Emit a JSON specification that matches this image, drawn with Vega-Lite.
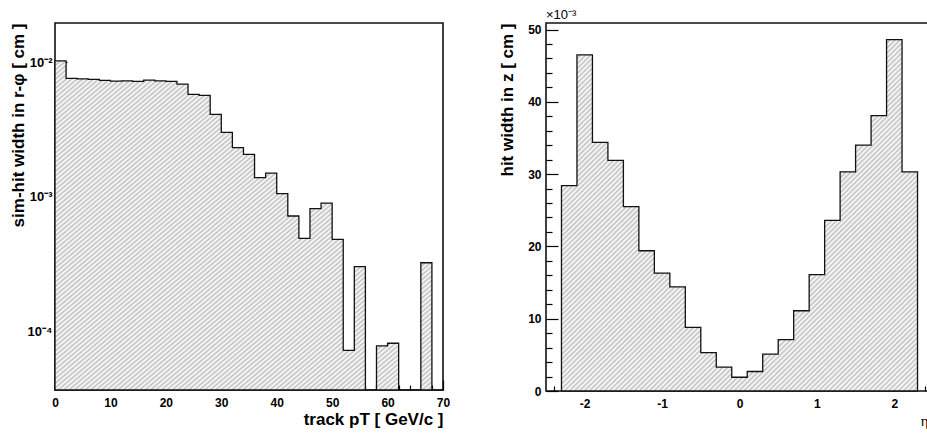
{
  "$schema": "https://vega.github.io/schema/vega-lite/v6.json",
  "background": "white",
  "padding": {"left": 8, "top": 8, "right": 0, "bottom": 0},
  "spacing": 103,
  "bounds": "flush",
  "datasets": {
    "rphi": [
      {"pt_lo": 0, "pt_hi": 2, "width": 0.0102},
      {"pt_lo": 2, "pt_hi": 4, "width": 0.00757},
      {"pt_lo": 4, "pt_hi": 6, "width": 0.00752},
      {"pt_lo": 6, "pt_hi": 8, "width": 0.00744},
      {"pt_lo": 8, "pt_hi": 10, "width": 0.00731},
      {"pt_lo": 10, "pt_hi": 12, "width": 0.00723},
      {"pt_lo": 12, "pt_hi": 14, "width": 0.00727},
      {"pt_lo": 14, "pt_hi": 16, "width": 0.00719},
      {"pt_lo": 16, "pt_hi": 18, "width": 0.00735},
      {"pt_lo": 18, "pt_hi": 20, "width": 0.00727},
      {"pt_lo": 20, "pt_hi": 22, "width": 0.00719},
      {"pt_lo": 22, "pt_hi": 24, "width": 0.00687},
      {"pt_lo": 24, "pt_hi": 26, "width": 0.00576},
      {"pt_lo": 26, "pt_hi": 28, "width": 0.00566},
      {"pt_lo": 28, "pt_hi": 30, "width": 0.00409},
      {"pt_lo": 30, "pt_hi": 32, "width": 0.00301},
      {"pt_lo": 32, "pt_hi": 34, "width": 0.00232},
      {"pt_lo": 34, "pt_hi": 36, "width": 0.00207},
      {"pt_lo": 36, "pt_hi": 38, "width": 0.00139},
      {"pt_lo": 38, "pt_hi": 40, "width": 0.0015},
      {"pt_lo": 40, "pt_hi": 42, "width": 0.00106},
      {"pt_lo": 42, "pt_hi": 44, "width": 0.000722},
      {"pt_lo": 44, "pt_hi": 46, "width": 0.000493},
      {"pt_lo": 46, "pt_hi": 48, "width": 0.000818},
      {"pt_lo": 48, "pt_hi": 50, "width": 0.000901},
      {"pt_lo": 50, "pt_hi": 52, "width": 0.000485},
      {"pt_lo": 52, "pt_hi": 54, "width": 0.0000729},
      {"pt_lo": 54, "pt_hi": 56, "width": 0.000304},
      {"pt_lo": 56, "pt_hi": 58, "width": 0},
      {"pt_lo": 58, "pt_hi": 60, "width": 0.0000785},
      {"pt_lo": 60, "pt_hi": 62, "width": 0.0000822},
      {"pt_lo": 62, "pt_hi": 64, "width": 0},
      {"pt_lo": 64, "pt_hi": 66, "width": 0},
      {"pt_lo": 66, "pt_hi": 68, "width": 0.000325},
      {"pt_lo": 68, "pt_hi": 70, "width": 0}
    ],
    "zw": [
      {"eta_lo": -2.3, "eta_hi": -2.1, "width": 0.0284},
      {"eta_lo": -2.1, "eta_hi": -1.9, "width": 0.0465},
      {"eta_lo": -1.9, "eta_hi": -1.7, "width": 0.0344},
      {"eta_lo": -1.7, "eta_hi": -1.5, "width": 0.0319},
      {"eta_lo": -1.5, "eta_hi": -1.3, "width": 0.0255},
      {"eta_lo": -1.3, "eta_hi": -1.1, "width": 0.0194},
      {"eta_lo": -1.1, "eta_hi": -0.9, "width": 0.0163},
      {"eta_lo": -0.9, "eta_hi": -0.7, "width": 0.0144},
      {"eta_lo": -0.7, "eta_hi": -0.5, "width": 0.0088},
      {"eta_lo": -0.5, "eta_hi": -0.3, "width": 0.0053},
      {"eta_lo": -0.3, "eta_hi": -0.1, "width": 0.0033},
      {"eta_lo": -0.1, "eta_hi": 0.1, "width": 0.0019},
      {"eta_lo": 0.1, "eta_hi": 0.3, "width": 0.0027},
      {"eta_lo": 0.3, "eta_hi": 0.5, "width": 0.0051},
      {"eta_lo": 0.5, "eta_hi": 0.7, "width": 0.0071},
      {"eta_lo": 0.7, "eta_hi": 0.9, "width": 0.0111},
      {"eta_lo": 0.9, "eta_hi": 1.1, "width": 0.0161},
      {"eta_lo": 1.1, "eta_hi": 1.3, "width": 0.0236},
      {"eta_lo": 1.3, "eta_hi": 1.5, "width": 0.0303},
      {"eta_lo": 1.5, "eta_hi": 1.7, "width": 0.034},
      {"eta_lo": 1.7, "eta_hi": 1.9, "width": 0.0381},
      {"eta_lo": 1.9, "eta_hi": 2.1, "width": 0.0486},
      {"eta_lo": 2.1, "eta_hi": 2.3, "width": 0.0303}
    ]
  },
  "hconcat": [
    {
      "width": 388,
      "height": 367,
      "data": {"name": "rphi"},
      "transform": [{"fold": ["pt_lo", "pt_hi"], "as": ["edge", "pt"]}],
      "resolve": {"axis": {"x": "independent", "y": "independent"}},
      "layer": [
        {
          "mark": {"type": "area"},
          "encoding": {
            "x": {
              "field": "pt", "type": "quantitative",
              "scale": {"domain": [0, 70], "nice": false, "zero": false},
              "axis": {
                "orient": "bottom", "offset": -10, "tickSize": 10, "labelPadding": 7,
                "values": [0,10,20,30,40,50,60,70],
                "title": "track pT [ GeV/c ]",
                "titleAnchor": "end", "titleAlign": "right", "titleBaseline": "alphabetic",
                "titleX": 388, "titleY": 44
              }
            },
            "y": {
              "field": "width", "type": "quantitative", "stack": null,
              "scale": {"type": "log", "domain": [0.000037, 0.0195], "nice": false, "clamp": true},
              "axis": {
                "orient": "left", "offset": -12, "tickSize": 12, "labelPadding": 3,
                "values": [0.0001, 0.001, 0.01],
                "labelFontSize": 13,
                "labelExpr": "datum.value == 0.01 ? '10⁻²' : (datum.value == 0.001 ? '10⁻³' : '10⁻⁴')",
                "title": "sim-hit width in r-φ [ cm ]",
                "titleAngle": 270, "titleAlign": "right", "titleBaseline": "middle",
                "titleX": -48.5, "titleY": 0
              }
            }
          }
        },
        {
          "mark": {"type": "area", "fillOpacity": 0, "stroke": "#111", "strokeWidth": 1.3, "strokeJoin": "miter"},
          "encoding": {
            "x": {
              "field": "pt", "type": "quantitative",
              "scale": {"domain": [0, 70], "nice": false, "zero": false},
              "axis": {
                "orient": "bottom", "offset": -5, "tickSize": 5, "labels": false, "title": null,
                "values": [2,4,6,8,12,14,16,18,22,24,26,28,32,34,36,38,42,44,46,48,52,54,56,58,62,64,66,68]
              }
            },
            "y": {
              "field": "width", "type": "quantitative", "stack": null,
              "scale": {"type": "log", "domain": [0.000037, 0.0195], "nice": false, "clamp": true},
              "axis": {
                "orient": "left", "offset": -6, "tickSize": 6, "labels": false, "title": null,
                "values": [0.00004,0.00005,0.00006,0.00007,0.00008,0.00009,0.0002,0.0003,0.0004,0.0005,0.0006,0.0007,0.0008,0.0009,0.002,0.003,0.004,0.005,0.006,0.007,0.008,0.009]
              }
            }
          }
        }
      ]
    },
    {
      "width": 387,
      "height": 368,
      "title": {"text": "×10⁻³", "anchor": "start", "frame": "group", "fontSize": 13, "fontWeight": "normal", "font": "Liberation Sans", "color": "#000", "offset": 1},
      "data": {"name": "zw"},
      "transform": [{"fold": ["eta_lo", "eta_hi"], "as": ["edge", "eta"]}],
      "resolve": {"axis": {"x": "independent", "y": "independent"}},
      "layer": [
        {
          "mark": {"type": "area"},
          "encoding": {
            "x": {
              "field": "eta", "type": "quantitative",
              "scale": {"domain": [-2.5, 2.5], "nice": false, "zero": false},
              "axis": {
                "orient": "bottom", "offset": -10, "tickSize": 10, "labelPadding": 7,
                "values": [-2, -1, 0, 1, 2],
                "labelExpr": "datum.value < 0 ? '-' + abs(datum.value) : '' + datum.value",
                "title": "η",
                "titleFont": "Liberation Serif", "titleFontWeight": "normal", "titleFontSize": 15,
                "titleAnchor": "end", "titleAlign": "right", "titleBaseline": "alphabetic",
                "titleX": 382, "titleY": 44
              }
            },
            "y": {
              "field": "width", "type": "quantitative", "stack": null,
              "scale": {"domain": [0, 0.0509], "nice": false},
              "axis": {
                "orient": "left", "offset": -12, "tickSize": 12, "labelPadding": 5,
                "values": [0, 0.01, 0.02, 0.03, 0.04, 0.05],
                "labelExpr": "'' + round(datum.value * 1000)",
                "title": "hit width in z [ cm ]",
                "titleAngle": 270, "titleAlign": "right", "titleBaseline": "middle",
                "titleX": -51, "titleY": 0
              }
            }
          }
        },
        {
          "mark": {"type": "area", "fillOpacity": 0, "stroke": "#111", "strokeWidth": 1.3, "strokeJoin": "miter"},
          "encoding": {
            "x": {
              "field": "eta", "type": "quantitative",
              "scale": {"domain": [-2.5, 2.5], "nice": false, "zero": false},
              "axis": {
                "orient": "bottom", "offset": -5, "tickSize": 5, "labels": false, "title": null,
                "values": [-2.4,-2.2,-1.8,-1.6,-1.4,-1.2,-0.8,-0.6,-0.4,-0.2,0.2,0.4,0.6,0.8,1.2,1.4,1.6,1.8,2.2,2.4]
              }
            },
            "y": {
              "field": "width", "type": "quantitative", "stack": null,
              "scale": {"domain": [0, 0.0509], "nice": false},
              "axis": {
                "orient": "left", "offset": -6, "tickSize": 6, "labels": false, "title": null,
                "values": [0.002,0.004,0.006,0.008,0.012,0.014,0.016,0.018,0.022,0.024,0.026,0.028,0.032,0.034,0.036,0.038,0.042,0.044,0.046,0.048]
              }
            }
          }
        }
      ]
    }
  ],
  "config": {
    "view": {"stroke": "#111", "strokeWidth": 1.6},
    "axis": {
      "zindex": 1,
      "grid": false,
      "domain": false,
      "tickColor": "#000", "tickWidth": 1.2,
      "labelFont": "Liberation Sans", "labelFontWeight": "bold", "labelFontSize": 12, "labelColor": "#000",
      "labelOverlap": false, "labelFlush": false, "labelBound": false,
      "titleFont": "Liberation Sans", "titleFontWeight": "bold", "titleFontSize": 17, "titleColor": "#000"
    },
    "area": {
      "fill": {
        "gradient": "linear", "x1": 0, "y1": 0, "x2": 1, "y2": 1,
        "stops": [
          {"offset":0,"color":"#c0c0c0"},{"offset":0.0035,"color":"#fff"},{"offset":0.007,"color":"#c0c0c0"},{"offset":0.0105,"color":"#fff"},{"offset":0.014,"color":"#c0c0c0"},{"offset":0.0175,"color":"#fff"},{"offset":0.021,"color":"#c0c0c0"},{"offset":0.0245,"color":"#fff"},{"offset":0.028,"color":"#c0c0c0"},{"offset":0.0315,"color":"#fff"},{"offset":0.035,"color":"#c0c0c0"},{"offset":0.0385,"color":"#fff"},{"offset":0.042,"color":"#c0c0c0"},{"offset":0.0455,"color":"#fff"},{"offset":0.049,"color":"#c0c0c0"},{"offset":0.0525,"color":"#fff"},{"offset":0.056,"color":"#c0c0c0"},{"offset":0.0595,"color":"#fff"},{"offset":0.063,"color":"#c0c0c0"},{"offset":0.0665,"color":"#fff"},
          {"offset":0.07,"color":"#c0c0c0"},{"offset":0.0735,"color":"#fff"},{"offset":0.077,"color":"#c0c0c0"},{"offset":0.0805,"color":"#fff"},{"offset":0.084,"color":"#c0c0c0"},{"offset":0.0875,"color":"#fff"},{"offset":0.091,"color":"#c0c0c0"},{"offset":0.0945,"color":"#fff"},{"offset":0.098,"color":"#c0c0c0"},{"offset":0.1015,"color":"#fff"},{"offset":0.105,"color":"#c0c0c0"},{"offset":0.1085,"color":"#fff"},{"offset":0.112,"color":"#c0c0c0"},{"offset":0.1155,"color":"#fff"},{"offset":0.119,"color":"#c0c0c0"},{"offset":0.1225,"color":"#fff"},{"offset":0.126,"color":"#c0c0c0"},{"offset":0.1295,"color":"#fff"},{"offset":0.133,"color":"#c0c0c0"},{"offset":0.1365,"color":"#fff"},
          {"offset":0.14,"color":"#c0c0c0"},{"offset":0.1435,"color":"#fff"},{"offset":0.147,"color":"#c0c0c0"},{"offset":0.1505,"color":"#fff"},{"offset":0.154,"color":"#c0c0c0"},{"offset":0.1575,"color":"#fff"},{"offset":0.161,"color":"#c0c0c0"},{"offset":0.1645,"color":"#fff"},{"offset":0.168,"color":"#c0c0c0"},{"offset":0.1715,"color":"#fff"},{"offset":0.175,"color":"#c0c0c0"},{"offset":0.1785,"color":"#fff"},{"offset":0.182,"color":"#c0c0c0"},{"offset":0.1855,"color":"#fff"},{"offset":0.189,"color":"#c0c0c0"},{"offset":0.1925,"color":"#fff"},{"offset":0.196,"color":"#c0c0c0"},{"offset":0.1995,"color":"#fff"},{"offset":0.203,"color":"#c0c0c0"},{"offset":0.2065,"color":"#fff"},
          {"offset":0.21,"color":"#c0c0c0"},{"offset":0.2135,"color":"#fff"},{"offset":0.217,"color":"#c0c0c0"},{"offset":0.2205,"color":"#fff"},{"offset":0.224,"color":"#c0c0c0"},{"offset":0.2275,"color":"#fff"},{"offset":0.231,"color":"#c0c0c0"},{"offset":0.2345,"color":"#fff"},{"offset":0.238,"color":"#c0c0c0"},{"offset":0.2415,"color":"#fff"},{"offset":0.245,"color":"#c0c0c0"},{"offset":0.2485,"color":"#fff"},{"offset":0.252,"color":"#c0c0c0"},{"offset":0.2555,"color":"#fff"},{"offset":0.259,"color":"#c0c0c0"},{"offset":0.2625,"color":"#fff"},{"offset":0.266,"color":"#c0c0c0"},{"offset":0.2695,"color":"#fff"},{"offset":0.273,"color":"#c0c0c0"},{"offset":0.2765,"color":"#fff"},
          {"offset":0.28,"color":"#c0c0c0"},{"offset":0.2835,"color":"#fff"},{"offset":0.287,"color":"#c0c0c0"},{"offset":0.2905,"color":"#fff"},{"offset":0.294,"color":"#c0c0c0"},{"offset":0.2975,"color":"#fff"},{"offset":0.301,"color":"#c0c0c0"},{"offset":0.3045,"color":"#fff"},{"offset":0.308,"color":"#c0c0c0"},{"offset":0.3115,"color":"#fff"},{"offset":0.315,"color":"#c0c0c0"},{"offset":0.3185,"color":"#fff"},{"offset":0.322,"color":"#c0c0c0"},{"offset":0.3255,"color":"#fff"},{"offset":0.329,"color":"#c0c0c0"},{"offset":0.3325,"color":"#fff"},{"offset":0.336,"color":"#c0c0c0"},{"offset":0.3395,"color":"#fff"},{"offset":0.343,"color":"#c0c0c0"},{"offset":0.3465,"color":"#fff"},
          {"offset":0.35,"color":"#c0c0c0"},{"offset":0.3535,"color":"#fff"},{"offset":0.357,"color":"#c0c0c0"},{"offset":0.3605,"color":"#fff"},{"offset":0.364,"color":"#c0c0c0"},{"offset":0.3675,"color":"#fff"},{"offset":0.371,"color":"#c0c0c0"},{"offset":0.3745,"color":"#fff"},{"offset":0.378,"color":"#c0c0c0"},{"offset":0.3815,"color":"#fff"},{"offset":0.385,"color":"#c0c0c0"},{"offset":0.3885,"color":"#fff"},{"offset":0.392,"color":"#c0c0c0"},{"offset":0.3955,"color":"#fff"},{"offset":0.399,"color":"#c0c0c0"},{"offset":0.4025,"color":"#fff"},{"offset":0.406,"color":"#c0c0c0"},{"offset":0.4095,"color":"#fff"},{"offset":0.413,"color":"#c0c0c0"},{"offset":0.4165,"color":"#fff"},
          {"offset":0.42,"color":"#c0c0c0"},{"offset":0.4235,"color":"#fff"},{"offset":0.427,"color":"#c0c0c0"},{"offset":0.4305,"color":"#fff"},{"offset":0.434,"color":"#c0c0c0"},{"offset":0.4375,"color":"#fff"},{"offset":0.441,"color":"#c0c0c0"},{"offset":0.4445,"color":"#fff"},{"offset":0.448,"color":"#c0c0c0"},{"offset":0.4515,"color":"#fff"},{"offset":0.455,"color":"#c0c0c0"},{"offset":0.4585,"color":"#fff"},{"offset":0.462,"color":"#c0c0c0"},{"offset":0.4655,"color":"#fff"},{"offset":0.469,"color":"#c0c0c0"},{"offset":0.4725,"color":"#fff"},{"offset":0.476,"color":"#c0c0c0"},{"offset":0.4795,"color":"#fff"},{"offset":0.483,"color":"#c0c0c0"},{"offset":0.4865,"color":"#fff"},
          {"offset":0.49,"color":"#c0c0c0"},{"offset":0.4935,"color":"#fff"},{"offset":0.497,"color":"#c0c0c0"},{"offset":0.5005,"color":"#fff"},{"offset":0.504,"color":"#c0c0c0"},{"offset":0.5075,"color":"#fff"},{"offset":0.511,"color":"#c0c0c0"},{"offset":0.5145,"color":"#fff"},{"offset":0.518,"color":"#c0c0c0"},{"offset":0.5215,"color":"#fff"},{"offset":0.525,"color":"#c0c0c0"},{"offset":0.5285,"color":"#fff"},{"offset":0.532,"color":"#c0c0c0"},{"offset":0.5355,"color":"#fff"},{"offset":0.539,"color":"#c0c0c0"},{"offset":0.5425,"color":"#fff"},{"offset":0.546,"color":"#c0c0c0"},{"offset":0.5495,"color":"#fff"},{"offset":0.553,"color":"#c0c0c0"},{"offset":0.5565,"color":"#fff"},
          {"offset":0.56,"color":"#c0c0c0"},{"offset":0.5635,"color":"#fff"},{"offset":0.567,"color":"#c0c0c0"},{"offset":0.5705,"color":"#fff"},{"offset":0.574,"color":"#c0c0c0"},{"offset":0.5775,"color":"#fff"},{"offset":0.581,"color":"#c0c0c0"},{"offset":0.5845,"color":"#fff"},{"offset":0.588,"color":"#c0c0c0"},{"offset":0.5915,"color":"#fff"},{"offset":0.595,"color":"#c0c0c0"},{"offset":0.5985,"color":"#fff"},{"offset":0.602,"color":"#c0c0c0"},{"offset":0.6055,"color":"#fff"},{"offset":0.609,"color":"#c0c0c0"},{"offset":0.6125,"color":"#fff"},{"offset":0.616,"color":"#c0c0c0"},{"offset":0.6195,"color":"#fff"},{"offset":0.623,"color":"#c0c0c0"},{"offset":0.6265,"color":"#fff"},
          {"offset":0.63,"color":"#c0c0c0"},{"offset":0.6335,"color":"#fff"},{"offset":0.637,"color":"#c0c0c0"},{"offset":0.6405,"color":"#fff"},{"offset":0.644,"color":"#c0c0c0"},{"offset":0.6475,"color":"#fff"},{"offset":0.651,"color":"#c0c0c0"},{"offset":0.6545,"color":"#fff"},{"offset":0.658,"color":"#c0c0c0"},{"offset":0.6615,"color":"#fff"},{"offset":0.665,"color":"#c0c0c0"},{"offset":0.6685,"color":"#fff"},{"offset":0.672,"color":"#c0c0c0"},{"offset":0.6755,"color":"#fff"},{"offset":0.679,"color":"#c0c0c0"},{"offset":0.6825,"color":"#fff"},{"offset":0.686,"color":"#c0c0c0"},{"offset":0.6895,"color":"#fff"},{"offset":0.693,"color":"#c0c0c0"},{"offset":0.6965,"color":"#fff"},
          {"offset":0.7,"color":"#c0c0c0"},{"offset":0.7035,"color":"#fff"},{"offset":0.707,"color":"#c0c0c0"},{"offset":0.7105,"color":"#fff"},{"offset":0.714,"color":"#c0c0c0"},{"offset":0.7175,"color":"#fff"},{"offset":0.721,"color":"#c0c0c0"},{"offset":0.7245,"color":"#fff"},{"offset":0.728,"color":"#c0c0c0"},{"offset":0.7315,"color":"#fff"},{"offset":0.735,"color":"#c0c0c0"},{"offset":0.7385,"color":"#fff"},{"offset":0.742,"color":"#c0c0c0"},{"offset":0.7455,"color":"#fff"},{"offset":0.749,"color":"#c0c0c0"},{"offset":0.7525,"color":"#fff"},{"offset":0.756,"color":"#c0c0c0"},{"offset":0.7595,"color":"#fff"},{"offset":0.763,"color":"#c0c0c0"},{"offset":0.7665,"color":"#fff"},
          {"offset":0.77,"color":"#c0c0c0"},{"offset":0.7735,"color":"#fff"},{"offset":0.777,"color":"#c0c0c0"},{"offset":0.7805,"color":"#fff"},{"offset":0.784,"color":"#c0c0c0"},{"offset":0.7875,"color":"#fff"},{"offset":0.791,"color":"#c0c0c0"},{"offset":0.7945,"color":"#fff"},{"offset":0.798,"color":"#c0c0c0"},{"offset":0.8015,"color":"#fff"},{"offset":0.805,"color":"#c0c0c0"},{"offset":0.8085,"color":"#fff"},{"offset":0.812,"color":"#c0c0c0"},{"offset":0.8155,"color":"#fff"},{"offset":0.819,"color":"#c0c0c0"},{"offset":0.8225,"color":"#fff"},{"offset":0.826,"color":"#c0c0c0"},{"offset":0.8295,"color":"#fff"},{"offset":0.833,"color":"#c0c0c0"},{"offset":0.8365,"color":"#fff"},
          {"offset":0.84,"color":"#c0c0c0"},{"offset":0.8435,"color":"#fff"},{"offset":0.847,"color":"#c0c0c0"},{"offset":0.8505,"color":"#fff"},{"offset":0.854,"color":"#c0c0c0"},{"offset":0.8575,"color":"#fff"},{"offset":0.861,"color":"#c0c0c0"},{"offset":0.8645,"color":"#fff"},{"offset":0.868,"color":"#c0c0c0"},{"offset":0.8715,"color":"#fff"},{"offset":0.875,"color":"#c0c0c0"},{"offset":0.8785,"color":"#fff"},{"offset":0.882,"color":"#c0c0c0"},{"offset":0.8855,"color":"#fff"},{"offset":0.889,"color":"#c0c0c0"},{"offset":0.8925,"color":"#fff"},{"offset":0.896,"color":"#c0c0c0"},{"offset":0.8995,"color":"#fff"},{"offset":0.903,"color":"#c0c0c0"},{"offset":0.9065,"color":"#fff"},
          {"offset":0.91,"color":"#c0c0c0"},{"offset":0.9135,"color":"#fff"},{"offset":0.917,"color":"#c0c0c0"},{"offset":0.9205,"color":"#fff"},{"offset":0.924,"color":"#c0c0c0"},{"offset":0.9275,"color":"#fff"},{"offset":0.931,"color":"#c0c0c0"},{"offset":0.9345,"color":"#fff"},{"offset":0.938,"color":"#c0c0c0"},{"offset":0.9415,"color":"#fff"},{"offset":0.945,"color":"#c0c0c0"},{"offset":0.9485,"color":"#fff"},{"offset":0.952,"color":"#c0c0c0"},{"offset":0.9555,"color":"#fff"},{"offset":0.959,"color":"#c0c0c0"},{"offset":0.9625,"color":"#fff"},{"offset":0.966,"color":"#c0c0c0"},{"offset":0.9695,"color":"#fff"},{"offset":0.973,"color":"#c0c0c0"},{"offset":0.9765,"color":"#fff"},
          {"offset":0.98,"color":"#c0c0c0"},{"offset":0.9835,"color":"#fff"},{"offset":0.987,"color":"#c0c0c0"},{"offset":0.9905,"color":"#fff"},{"offset":0.994,"color":"#c0c0c0"},{"offset":0.9975,"color":"#fff"},{"offset":1,"color":"#c0c0c0"}
        ]
      }
    }
  }
}
